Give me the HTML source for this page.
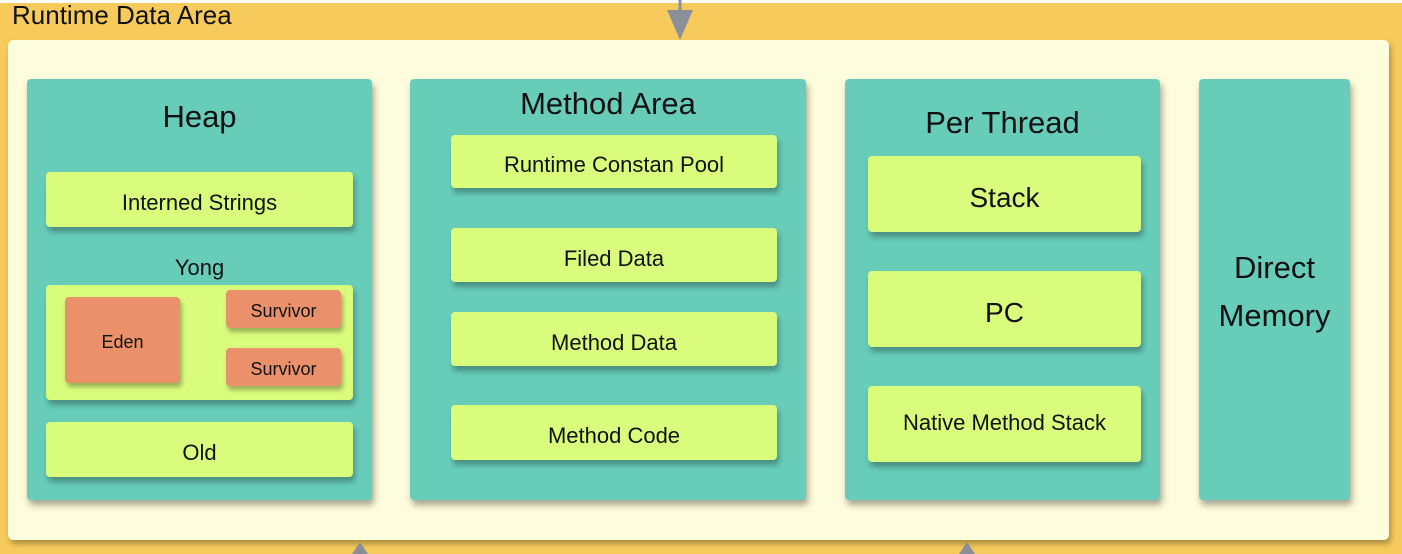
<!DOCTYPE html>
<html><head><style>
body{margin:0;width:1402px;height:554px;overflow:hidden;background:#f6cb5b;font-family:"Liberation Sans",sans-serif;position:relative}
div{position:absolute;box-sizing:border-box}
.c{display:flex;align-items:center;justify-content:center;text-align:center;color:#111}
.t{background:#67cdb9;border-radius:4px;box-shadow:2px 5px 7px rgba(0,0,0,.35)}
.l{background:#d9fc7c;border-radius:4px;box-shadow:2px 5px 6px rgba(0,0,0,.3);font-size:22px;padding-top:7px}
.o{background:#ea916b;border-radius:4px;box-shadow:2px 4px 5px rgba(0,0,0,.3);font-size:18px;padding-top:5px}
.h{font-size:31px}
</style></head><body>
<div style="left:0;top:0;width:1402px;height:3px;background:#fff"></div>
<div style="left:12px;top:0;font-size:26px;color:#111;line-height:30px">Runtime Data Area</div>
<div style="left:8px;top:40px;width:1381px;height:500px;background:#fdfcdc;border-radius:5px;box-shadow:2px 4px 6px rgba(0,0,0,.3)"></div>
<svg style="position:absolute;left:0;top:0" width="1402" height="554">
<line x1="680" y1="0" x2="680" y2="12" stroke="#8a8f9a" stroke-width="3"/>
<polygon points="667,10 693,10 680,40" fill="#8a8f9a"/>
<polygon points="352,554 368,554 360,542" fill="#8a8f9a"/>
<polygon points="959,554 975,554 967,542" fill="#8a8f9a"/>
</svg>
<div class="t" style="left:27px;top:79px;width:345px;height:421px"></div>
<div class="t" style="left:410px;top:79px;width:396px;height:421px"></div>
<div class="t" style="left:845px;top:79px;width:315px;height:421px"></div>
<div class="t" style="left:1199px;top:79px;width:151px;height:421px"></div>
<div class="c h" style="left:27px;top:97px;width:345px;height:40px">Heap</div>
<div class="c h" style="left:410px;top:84px;width:396px;height:40px">Method Area</div>
<div class="c h" style="left:845px;top:103px;width:315px;height:40px">Per Thread</div>
<div class="c h" style="left:1199px;top:244px;width:151px;height:96px;line-height:48px">Direct<br>Memory</div>
<div class="c l" style="left:46px;top:172px;width:307px;height:55px">Interned Strings</div>
<div class="c" style="left:46px;top:254px;width:307px;height:28px;font-size:22px">Yong</div>
<div class="l" style="left:46px;top:285px;width:307px;height:115px"></div>
<div class="c o" style="left:65px;top:297px;width:115px;height:86px">Eden</div>
<div class="c o" style="left:226px;top:290px;width:115px;height:38px">Survivor</div>
<div class="c o" style="left:226px;top:348px;width:115px;height:38px">Survivor</div>
<div class="c l" style="left:46px;top:422px;width:307px;height:55px">Old</div>
<div class="c l" style="left:451px;top:135px;width:326px;height:53px">Runtime Constan Pool</div>
<div class="c l" style="left:451px;top:228px;width:326px;height:54px">Filed Data</div>
<div class="c l" style="left:451px;top:312px;width:326px;height:54px">Method Data</div>
<div class="c l" style="left:451px;top:405px;width:326px;height:55px">Method Code</div>
<div class="c l" style="left:868px;top:156px;width:273px;height:76px;font-size:28px">Stack</div>
<div class="c l" style="left:868px;top:271px;width:273px;height:76px;font-size:28px">PC</div>
<div class="c l" style="left:868px;top:386px;width:273px;height:76px;padding-top:0;padding-bottom:2px">Native Method Stack</div>
</body></html>
